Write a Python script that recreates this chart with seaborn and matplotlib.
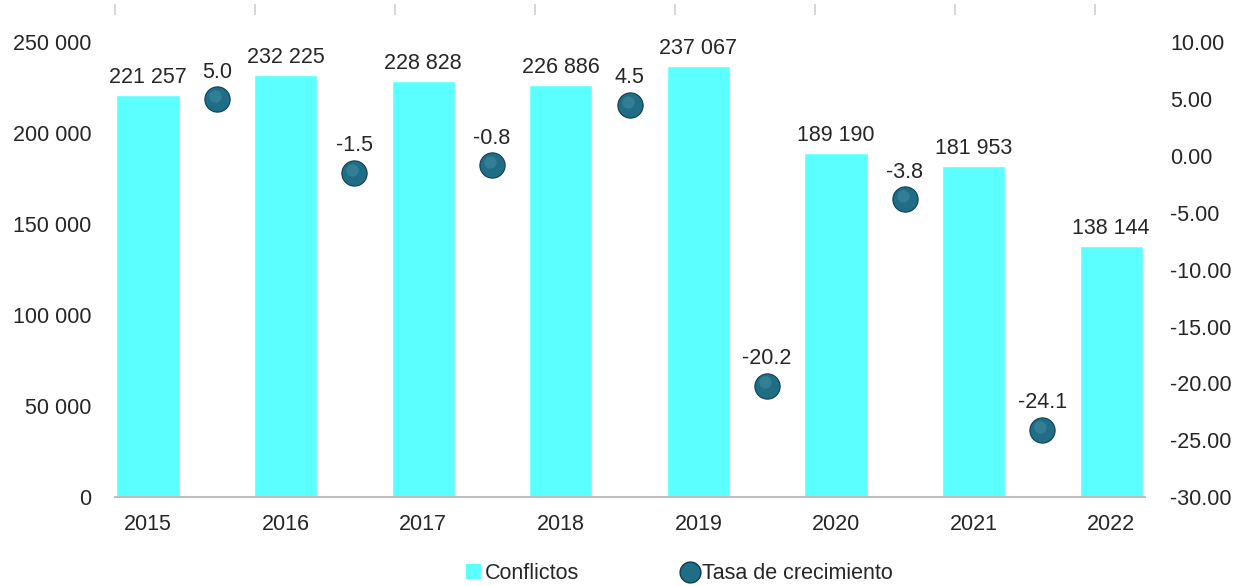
import numpy as np
import pandas as pd
import matplotlib
matplotlib.use("Agg")
import matplotlib.pyplot as plt
import seaborn as sns
from matplotlib.lines import Line2D
from matplotlib.patches import Patch
from matplotlib.ticker import FuncFormatter

# data
years = ["2015", "2016", "2017", "2018", "2019", "2020", "2021", "2022"]
conflictos = [221257, 232225, 228828, 226886, 237067, 189190, 181953, 138144]
tasa = [5.0, -1.5, -0.8, 4.5, -20.2, -3.8, -24.1]

bar_color = "#5CFFFF"
dot_color = "#1F6E85"
text_color = "#262626"
fs = 15.5

sns.set_theme(style="white")
plt.rcParams["font.family"] = ["Liberation Sans", "DejaVu Sans"]
plt.rcParams["font.size"] = fs
plt.rcParams["xtick.labelsize"] = fs
plt.rcParams["ytick.labelsize"] = fs
plt.rcParams["text.color"] = text_color
plt.rcParams["xtick.color"] = text_color
plt.rcParams["ytick.color"] = text_color

fig = plt.figure(figsize=(12.4, 5.86), dpi=100)
ax = fig.add_axes([0.0927, 0.1519, 0.8306, 0.7756])

df = pd.DataFrame({"year": years, "conflictos": conflictos})
sns.barplot(data=df, x="year", y="conflictos", color=bar_color, saturation=1,
            width=0.46, ax=ax)

ax.set_ylim(0, 250000)
ax.set_xlim(-0.24, 7.245)
ax.set_yticks(np.arange(0, 250001, 50000))
ax.yaxis.set_major_formatter(FuncFormatter(lambda v, p: f"{int(v):,}".replace(",", " ")))
ax.set_xlabel("")
ax.set_ylabel("")
ax.tick_params(axis="y", length=0, pad=17, labelsize=fs)
ax.tick_params(axis="x", length=0, pad=12, labelsize=fs)
for s in ["top", "left", "right"]:
    ax.spines[s].set_visible(False)
ax.spines["bottom"].set_color("#BFBFBF")
ax.spines["bottom"].set_linewidth(1.5)

for i, v in enumerate(conflictos):
    ax.annotate(f"{v:,}".replace(",", " "), (i, v), xytext=(0, 5),
                textcoords="offset points", ha="center", va="bottom")

# small ticks above the plot area
top_ticks = np.linspace(-0.24, 6.88, 8)
ax.vlines(top_ticks, 1.0605, 1.0847, transform=ax.get_xaxis_transform(),
          color="#D0D0D0", lw=1.2, clip_on=False)

# growth rate on secondary axis
ax2 = ax.twinx()
pts = pd.DataFrame({"x": np.arange(len(tasa)) + 0.5, "tasa": tasa})
sns.scatterplot(data=pts, x="x", y="tasa", ax=ax2, s=330, color=dot_color,
                edgecolor="#0E3F4E", linewidth=0.8, zorder=3, legend=False)
# soft highlight to mimic the shaded sphere
ax2.scatter(pts["x"] - 0.015, pts["tasa"] + 0.3, s=80, color="#4F97AB",
            alpha=0.4, linewidth=0, zorder=4)
ax2.set_ylim(-30, 10)
ax2.set_yticks(np.arange(-30, 10.1, 5))
ax2.yaxis.set_major_formatter(FuncFormatter(lambda v, p: f"{v:.2f}"))
ax2.tick_params(axis="y", length=0, pad=18, labelsize=fs)
ax2.set_xlabel("")
ax2.set_ylabel("")
for s in ["top", "left", "right", "bottom"]:
    ax2.spines[s].set_visible(False)
ax.set_xlim(-0.24, 7.245)

for x, v in zip(pts["x"], tasa):
    ax2.annotate(f"{v:.1f}", (x, v), xytext=(0, 12), textcoords="offset points",
                 ha="center", va="bottom")

handles = [
    Patch(facecolor=bar_color, edgecolor="none"),
    Line2D([], [], marker="o", linestyle="none", markersize=15,
           markerfacecolor=dot_color, markeredgecolor="#0E3F4E"),
]
fig.legend(handles, ["Conflictos", "Tasa de crecimiento"], loc="lower center",
           bbox_to_anchor=(0.548, -0.03), ncol=2, frameon=False,
           handlelength=0.7, handleheight=0.7, handletextpad=0.2,
           columnspacing=4.8, fontsize=fs)

fig.savefig("out.png", dpi=100)
